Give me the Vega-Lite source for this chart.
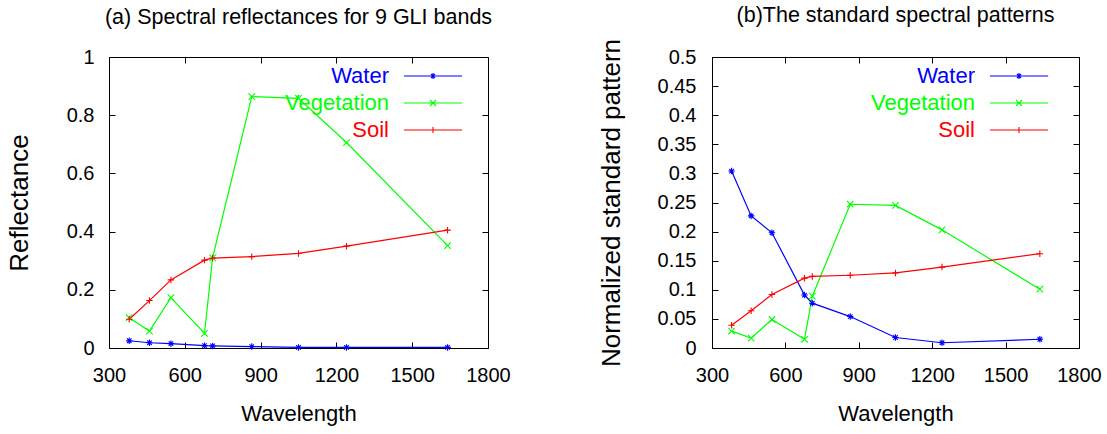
{
  "$schema": "https://vega.github.io/schema/vega-lite/v6.json",
  "padding": {"left": 5, "top": 4, "right": 5, "bottom": 2},
  "background": "white",
  "datasets": {
    "refl": [
      {"band": 380, "type": "Water", "value": 0.025},
      {"band": 460, "type": "Water", "value": 0.018},
      {"band": 545, "type": "Water", "value": 0.015},
      {"band": 678, "type": "Water", "value": 0.008},
      {"band": 710, "type": "Water", "value": 0.007},
      {"band": 865, "type": "Water", "value": 0.005},
      {"band": 1050, "type": "Water", "value": 0.002},
      {"band": 1240, "type": "Water", "value": 0.002},
      {"band": 1640, "type": "Water", "value": 0.002},
      {"band": 380, "type": "Vegetation", "value": 0.104},
      {"band": 460, "type": "Vegetation", "value": 0.058},
      {"band": 545, "type": "Vegetation", "value": 0.173},
      {"band": 678, "type": "Vegetation", "value": 0.05},
      {"band": 710, "type": "Vegetation", "value": 0.31},
      {"band": 865, "type": "Vegetation", "value": 0.864},
      {"band": 1050, "type": "Vegetation", "value": 0.858},
      {"band": 1240, "type": "Vegetation", "value": 0.706},
      {"band": 1640, "type": "Vegetation", "value": 0.352},
      {"band": 380, "type": "Soil", "value": 0.099},
      {"band": 460, "type": "Soil", "value": 0.163},
      {"band": 545, "type": "Soil", "value": 0.234},
      {"band": 678, "type": "Soil", "value": 0.302},
      {"band": 710, "type": "Soil", "value": 0.309},
      {"band": 865, "type": "Soil", "value": 0.314},
      {"band": 1050, "type": "Soil", "value": 0.325},
      {"band": 1240, "type": "Soil", "value": 0.35},
      {"band": 1640, "type": "Soil", "value": 0.405}
    ],
    "norm": [
      {"band": 380, "type": "Water", "value": 0.304},
      {"band": 460, "type": "Water", "value": 0.227},
      {"band": 545, "type": "Water", "value": 0.198},
      {"band": 678, "type": "Water", "value": 0.091},
      {"band": 710, "type": "Water", "value": 0.077},
      {"band": 865, "type": "Water", "value": 0.054},
      {"band": 1050, "type": "Water", "value": 0.018},
      {"band": 1240, "type": "Water", "value": 0.009},
      {"band": 1640, "type": "Water", "value": 0.015},
      {"band": 380, "type": "Vegetation", "value": 0.029},
      {"band": 460, "type": "Vegetation", "value": 0.017},
      {"band": 545, "type": "Vegetation", "value": 0.049},
      {"band": 678, "type": "Vegetation", "value": 0.015},
      {"band": 710, "type": "Vegetation", "value": 0.089},
      {"band": 865, "type": "Vegetation", "value": 0.247},
      {"band": 1050, "type": "Vegetation", "value": 0.245},
      {"band": 1240, "type": "Vegetation", "value": 0.203},
      {"band": 1640, "type": "Vegetation", "value": 0.101},
      {"band": 380, "type": "Soil", "value": 0.039},
      {"band": 460, "type": "Soil", "value": 0.064},
      {"band": 545, "type": "Soil", "value": 0.092},
      {"band": 678, "type": "Soil", "value": 0.12},
      {"band": 710, "type": "Soil", "value": 0.123},
      {"band": 865, "type": "Soil", "value": 0.125},
      {"band": 1050, "type": "Soil", "value": 0.129},
      {"band": 1240, "type": "Soil", "value": 0.139},
      {"band": 1640, "type": "Soil", "value": 0.162}
    ]
  },
  "hconcat": [
    {
      "title": {"text": "(a) Spectral reflectances for 9 GLI bands", "offset": 19},
      "width": 379,
      "height": 291,
      "data": {"name": "refl"},
      "layer": [
        {
          "mark": {"type": "line", "strokeWidth": 1.2},
          "encoding": {
            "x": {"field": "band", "type": "quantitative", "scale": {"domain": [300, 1800], "nice": false},
              "axis": {"title": "Wavelength", "values": [300, 600, 900, 1200, 1500, 1800], "format": "d", "labelPadding": 23, "titlePadding": 18}},
            "y": {"field": "value", "type": "quantitative", "scale": {"domain": [0, 1], "nice": false},
              "axis": {"title": "Reflectance", "values": [0, 0.2, 0.4, 0.6, 0.8, 1], "format": "~g", "labelPadding": 21, "titlePadding": 34, "titleFontSize": 26}},
            "color": {"field": "type", "type": "nominal",
              "scale": {"domain": ["Water", "Vegetation", "Soil"], "range": ["#0000ff", "#00ff00", "#ff0000"]},
              "legend": {"legendX": 313, "legendY": 8,
                "symbolType": {"expr": "datum.value === 'Water' ? 'M-9.7,0L9.7,0M-1,0L1,0M0,-1L0,1M-0.7,-0.7L0.7,0.7M-0.7,0.7L0.7,-0.7' : datum.value === 'Vegetation' ? 'M-9.7,0L9.7,0M-1,-1L1,1M-1,1L1,-1' : 'M-9.7,0L9.7,0M-1,0L1,0M0,-1L0,1'"}}}
          }
        },
        {
          "transform": [{"filter": "datum.type === 'Water'"}],
          "mark": {"type": "point", "filled": false, "size": 42, "strokeWidth": 1.1, "opacity": 1, "color": "#0000ff", "shape": "M-1,0L1,0M0,-1L0,1M-0.7,-0.7L0.7,0.7M-0.7,0.7L0.7,-0.7"},
          "encoding": {
            "x": {"field": "band", "type": "quantitative", "axis": null},
            "y": {"field": "value", "type": "quantitative", "axis": null}
          }
        },
        {
          "transform": [{"filter": "datum.type === 'Vegetation'"}],
          "mark": {"type": "point", "filled": false, "size": 42, "strokeWidth": 1.1, "opacity": 1, "color": "#00ff00", "shape": "M-1,-1L1,1M-1,1L1,-1"},
          "encoding": {
            "x": {"field": "band", "type": "quantitative", "axis": null},
            "y": {"field": "value", "type": "quantitative", "axis": null}
          }
        },
        {
          "transform": [{"filter": "datum.type === 'Soil'"}],
          "mark": {"type": "point", "filled": false, "size": 42, "strokeWidth": 1.1, "opacity": 1, "color": "#ff0000", "shape": "M-1,0L1,0M0,-1L0,1"},
          "encoding": {
            "x": {"field": "band", "type": "quantitative", "axis": null},
            "y": {"field": "value", "type": "quantitative", "axis": null}
          }
        },
        {
          "mark": {"type": "point", "opacity": 0},
          "encoding": {
            "x": {"field": "band", "type": "quantitative", "axis": {"orient": "top", "labels": false, "title": null, "minExtent": 0, "maxExtent": 0, "values": [300, 600, 900, 1200, 1500, 1800]}},
            "y": {"field": "value", "type": "quantitative", "axis": {"orient": "right", "labels": false, "title": null, "minExtent": 0, "maxExtent": 0, "values": [0, 0.2, 0.4, 0.6, 0.8, 1]}}
          }
        }
      ],
      "resolve": {"axis": {"x": "independent", "y": "independent"}}
    },
    {
      "title": {"text": "(b)The standard spectral patterns", "offset": 12},
      "width": 367,
      "height": 291,
      "data": {"name": "norm"},
      "layer": [
        {
          "mark": {"type": "line", "strokeWidth": 1.2},
          "encoding": {
            "x": {"field": "band", "type": "quantitative", "scale": {"domain": [300, 1800], "nice": false},
              "axis": {"title": "Wavelength", "values": [300, 600, 900, 1200, 1500, 1800], "format": "d", "labelPadding": 23, "titlePadding": 18}},
            "y": {"field": "value", "type": "quantitative", "scale": {"domain": [0, 0.5], "nice": false},
              "axis": {"title": "Normalized standard pattern", "values": [0, 0.05, 0.1, 0.15, 0.2, 0.25, 0.3, 0.35, 0.4, 0.45, 0.5], "format": "~g", "labelPadding": 22, "titlePadding": 33, "titleFontSize": 26}},
            "color": {"field": "type", "type": "nominal",
              "scale": {"domain": ["Water", "Vegetation", "Soil"], "range": ["#0000ff", "#00ff00", "#ff0000"]},
              "legend": {"legendX": 296, "legendY": 8,
                "symbolType": {"expr": "datum.value === 'Water' ? 'M-9.7,0L9.7,0M-1,0L1,0M0,-1L0,1M-0.7,-0.7L0.7,0.7M-0.7,0.7L0.7,-0.7' : datum.value === 'Vegetation' ? 'M-9.7,0L9.7,0M-1,-1L1,1M-1,1L1,-1' : 'M-9.7,0L9.7,0M-1,0L1,0M0,-1L0,1'"}}}
          }
        },
        {
          "transform": [{"filter": "datum.type === 'Water'"}],
          "mark": {"type": "point", "filled": false, "size": 42, "strokeWidth": 1.1, "opacity": 1, "color": "#0000ff", "shape": "M-1,0L1,0M0,-1L0,1M-0.7,-0.7L0.7,0.7M-0.7,0.7L0.7,-0.7"},
          "encoding": {
            "x": {"field": "band", "type": "quantitative", "axis": null},
            "y": {"field": "value", "type": "quantitative", "axis": null}
          }
        },
        {
          "transform": [{"filter": "datum.type === 'Vegetation'"}],
          "mark": {"type": "point", "filled": false, "size": 42, "strokeWidth": 1.1, "opacity": 1, "color": "#00ff00", "shape": "M-1,-1L1,1M-1,1L1,-1"},
          "encoding": {
            "x": {"field": "band", "type": "quantitative", "axis": null},
            "y": {"field": "value", "type": "quantitative", "axis": null}
          }
        },
        {
          "transform": [{"filter": "datum.type === 'Soil'"}],
          "mark": {"type": "point", "filled": false, "size": 42, "strokeWidth": 1.1, "opacity": 1, "color": "#ff0000", "shape": "M-1,0L1,0M0,-1L0,1"},
          "encoding": {
            "x": {"field": "band", "type": "quantitative", "axis": null},
            "y": {"field": "value", "type": "quantitative", "axis": null}
          }
        },
        {
          "mark": {"type": "point", "opacity": 0},
          "encoding": {
            "x": {"field": "band", "type": "quantitative", "axis": {"orient": "top", "labels": false, "title": null, "minExtent": 0, "maxExtent": 0, "values": [300, 600, 900, 1200, 1500, 1800]}},
            "y": {"field": "value", "type": "quantitative", "axis": {"orient": "right", "labels": false, "title": null, "minExtent": 0, "maxExtent": 0, "values": [0, 0.05, 0.1, 0.15, 0.2, 0.25, 0.3, 0.35, 0.4, 0.45, 0.5]}}
          }
        }
      ],
      "resolve": {"axis": {"x": "independent", "y": "independent"}}
    }
  ],
  "spacing": 86,
  "resolve": {"scale": {"color": "independent"}, "legend": {"color": "independent"}},
  "config": {
    "font": "Liberation Sans",
    "view": {"stroke": "black", "strokeWidth": 1},
    "title": {"font": "Liberation Sans", "fontSize": 21.5, "fontWeight": "normal", "color": "black", "baseline": "alphabetic"},
    "axis": {
      "domain": false, "grid": false, "tickSize": -6, "tickColor": "black", "tickWidth": 1,
      "labelFont": "Liberation Sans", "labelFontSize": 20, "labelColor": "black", "labelFlush": false, "labelOverlap": false,
      "titleFont": "Liberation Sans", "titleFontSize": 22, "titleFontWeight": "normal", "titleColor": "black"
    },
    "legend": {
      "orient": "none", "title": null, "padding": 0, "symbolSize": 36, "symbolStrokeWidth": 1.1,
      "labelFont": "Liberation Sans", "labelFontSize": 22, "labelAlign": "right", "labelOffset": -55, "rowPadding": 5,
      "symbolFillColor": "transparent",
      "labelColor": {"expr": "datum.value === 'Water' ? '#0000ff' : datum.value === 'Vegetation' ? '#00ff00' : '#ff0000'"}
    }
  }
}
